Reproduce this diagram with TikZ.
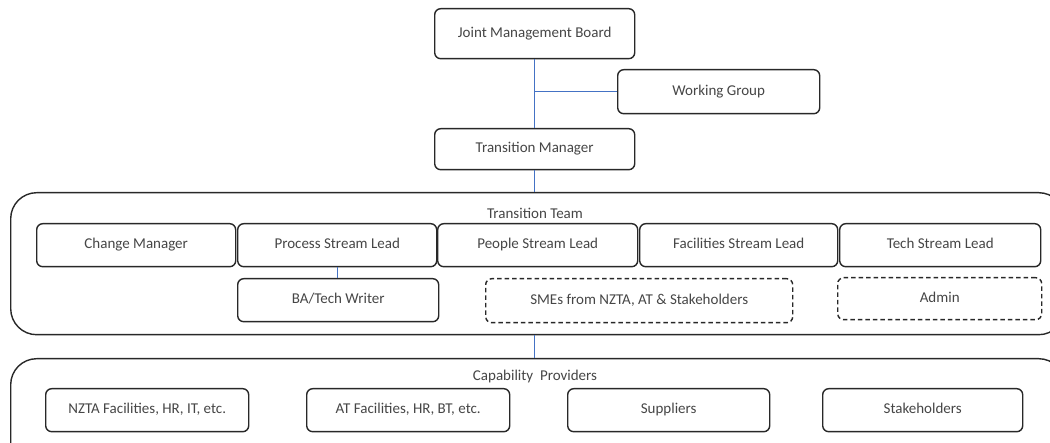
\documentclass[tikz,border=0pt]{standalone}
\usepackage{fontspec}
\setmainfont{Carlito}
\begin{document}
\definecolor{boxline}{RGB}{40,40,40}
\definecolor{boxtext}{RGB}{70,70,70}
\definecolor{linkblue}{RGB}{68,114,196}
\begin{tikzpicture}[x=1pt,y=-1pt,
  every node/.style={font=\fontsize{15}{17}\selectfont, text=boxtext,
    text height=10pt, text depth=3pt},
  unit/.style={draw=boxline, line width=1.4pt, rounded corners=6pt, fill=white,
    inner sep=0pt, anchor=north west},
  soft/.style={unit, dashed, dash pattern=on 4.5pt off 3pt},
  group/.style={draw=boxline, line width=1.4pt, rounded corners=26pt,
    inner sep=0pt, anchor=north west},
  grouptitle/.style={inner sep=0pt, anchor=center},
  link/.style={draw=linkblue, line width=1.3pt}]
\useasboundingbox (0,0) rectangle (1050,443);
\clip (0,0) rectangle (1050,443);
\fill[white] (0,0) rectangle (1050,443);

% outer groups
\node[group, minimum width=1054pt, minimum height=142pt] (team) at (10,192) {};
\node[group, minimum width=1054pt, minimum height=112pt] (cap) at (10,358) {};
\node[grouptitle] (teamtitle) at (535,215) {Transition Team};
\node[grouptitle] (captitle) at (535,377) {Capability\ \ Providers};

% governance
\node[unit, minimum width=200pt, minimum height=50pt] (jmb) at (434,8) {Joint Management Board};
\node[unit, minimum width=202pt, minimum height=44pt] (wg) at (617,69) {Working Group};
\node[unit, minimum width=200pt, minimum height=41pt] (tm) at (434,128) {Transition Manager};

% transition team, first row
\node[unit, minimum width=199pt, minimum height=43pt] (chg) at (36,223) {Change Manager};
\node[unit, minimum width=199pt, minimum height=43pt] (proc) at (237,223) {Process Stream Lead};
\node[unit, minimum width=200pt, minimum height=43pt] (people) at (437,223) {People Stream Lead};
\node[unit, minimum width=198pt, minimum height=43pt] (fac) at (639,223) {Facilities Stream Lead};
\node[unit, minimum width=201pt, minimum height=43pt] (tech) at (839,223) {Tech Stream Lead};

% transition team, second row
\node[unit, minimum width=201pt, minimum height=43pt] (ba) at (237,278) {BA/Tech Writer};
\node[soft, minimum width=307pt, minimum height=44pt] (sme) at (485,278) {SMEs from NZTA, AT \& Stakeholders};
\node[soft, minimum width=204pt, minimum height=42pt] (admin) at (837,277) {Admin};

% capability providers
\node[unit, minimum width=203pt, minimum height=43pt] (nzta) at (45,388) {NZTA Facilities, HR, IT, etc.};
\node[unit, minimum width=203pt, minimum height=43pt] (atf) at (306,388) {AT Facilities, HR, BT, etc.};
\node[unit, minimum width=202pt, minimum height=43pt] (sup) at (567,388) {Suppliers};
\node[unit, minimum width=200pt, minimum height=43pt] (stk) at (822,388) {Stakeholders};

% reporting lines
\coordinate (wgjoin) at (jmb.south |- wg.west);
\draw[link] (jmb.south) -- (tm.north);
\draw[link] (wgjoin) -- (wg.west);
\draw[link] (tm.south) -- (tm.south |- team.north);
\draw[link] (tm.south |- team.south) -- (tm.south |- cap.north);
\draw[link] (proc.south) -- (proc.south |- ba.north);
\end{tikzpicture}
\end{document}
